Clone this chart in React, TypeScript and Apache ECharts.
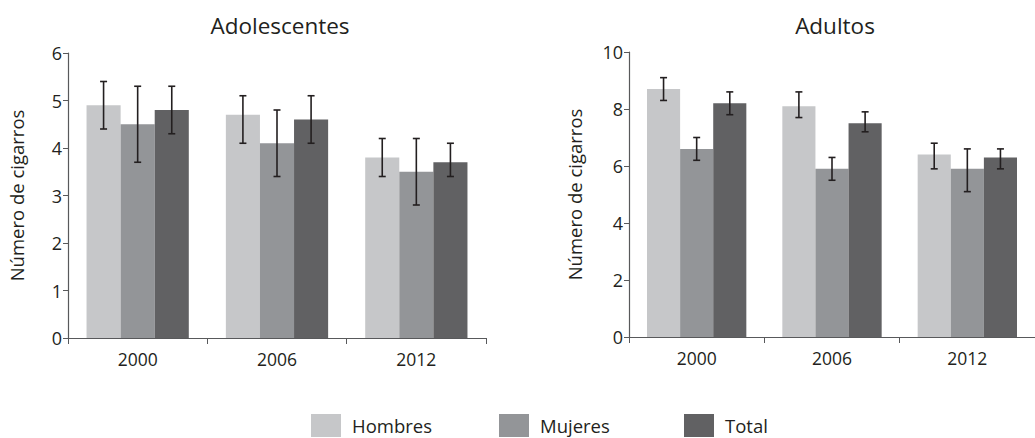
import React, { useEffect, useRef } from "react";
import * as echarts from "echarts";

const categories = ["2000", "2006", "2012"];
const seriesNames = ["Hombres", "Mujeres", "Total"];
const colors = ["#c6c7c9", "#939598", "#616163"];

// Adolescentes
const adoValues = [
  [4.9, 4.7, 3.8],
  [4.5, 4.1, 3.5],
  [4.8, 4.6, 3.7],
];
const adoLow = [
  [4.4, 4.1, 3.4],
  [3.7, 3.4, 2.8],
  [4.3, 4.1, 3.4],
];
const adoHigh = [
  [5.4, 5.1, 4.2],
  [5.3, 4.8, 4.2],
  [5.3, 5.1, 4.1],
];

// Adultos
const aduValues = [
  [8.7, 8.1, 6.4],
  [6.6, 5.9, 5.9],
  [8.2, 7.5, 6.3],
];
const aduLow = [
  [8.3, 7.7, 5.9],
  [6.2, 5.5, 5.1],
  [7.8, 7.2, 5.9],
];
const aduHigh = [
  [9.1, 8.6, 6.8],
  [7.0, 6.3, 6.6],
  [8.6, 7.9, 6.6],
];

const FONT = "'Open Sans', 'DejaVu Sans', sans-serif";
const TEXT = "#231f20";
const CAT_GAP = 0.266;

function errorSeries(gridIdx: number, low: number[][], high: number[][]) {
  const data: number[][] = [];
  low.forEach((arr, s) => arr.forEach((v, c) => data.push([c, v, high[s][c], s])));
  return {
    type: "custom",
    xAxisIndex: gridIdx,
    yAxisIndex: gridIdx,
    silent: true,
    z: 10,
    data,
    renderItem: (params: any, api: any) => {
      const c = api.value(0);
      const lo = api.value(1);
      const hi = api.value(2);
      const s = api.value(3);
      const catW = api.size([1, 0])[0];
      const bw = (catW * (1 - CAT_GAP)) / 3;
      const pLo = api.coord([c, lo]);
      const pHi = api.coord([c, hi]);
      const x = pLo[0] + (s - 1) * bw;
      const cap = 3.5;
      const style = { stroke: TEXT, lineWidth: 1.6 };
      return {
        type: "group",
        children: [
          { type: "line", shape: { x1: x, y1: pLo[1], x2: x, y2: pHi[1] }, style },
          { type: "line", shape: { x1: x - cap, y1: pLo[1], x2: x + cap, y2: pLo[1] }, style },
          { type: "line", shape: { x1: x - cap, y1: pHi[1], x2: x + cap, y2: pHi[1] }, style },
        ],
      };
    },
  };
}

export default function App() {
  const ref = useRef<HTMLDivElement>(null);
  useEffect(() => {
    document.body.style.margin = "0";
    const chart = echarts.init(ref.current!, null, { renderer: "svg" });
    const axisLine = { lineStyle: { color: "#58595b", width: 1.2 } };
    const xAxis = (gi: number) => ({
      type: "category",
      gridIndex: gi,
      data: categories,
      axisLine,
      axisTick: { show: true, length: 6, lineStyle: { color: "#58595b" } },
      axisLabel: { color: TEXT, fontSize: 17.5, fontFamily: FONT, margin: 12 },
    });
    const yAxis = (gi: number, max: number, interval: number, gap: number) => ({
      type: "value",
      gridIndex: gi,
      min: 0,
      max,
      interval,
      name: "Número de cigarros",
      nameLocation: "middle",
      nameGap: gap,
      nameTextStyle: { color: TEXT, fontSize: 18.5, fontFamily: FONT },
      axisLine: { show: true, ...axisLine },
      axisTick: { show: true, length: 5, lineStyle: { color: "#58595b" } },
      axisLabel: { color: TEXT, fontSize: 18, fontFamily: FONT, margin: 6 },
      splitLine: { show: false },
    });
    const bars: any[] = [];
    [adoValues, aduValues].forEach((vals, gi) => {
      vals.forEach((v, s) => {
        bars.push({
          type: "bar",
          name: seriesNames[s],
          xAxisIndex: gi,
          yAxisIndex: gi,
          data: v,
          barGap: "0%",
          barCategoryGap: CAT_GAP * 100 + "%",
          itemStyle: { color: colors[s] },
        });
      });
    });
    const legendLefts = [311, 499, 684];
    chart.setOption({
      animation: false,
      textStyle: { fontFamily: FONT },
      title: [
        {
          text: "Adolescentes",
          left: 275,
          top: 9,
          textAlign: "center",
          textStyle: { color: TEXT, fontSize: 22.5, fontWeight: "normal", fontFamily: FONT },
        },
        {
          text: "Adultos",
          left: 830,
          top: 9,
          textAlign: "center",
          textStyle: { color: TEXT, fontSize: 22.5, fontWeight: "normal", fontFamily: FONT },
        },
      ],
      legend: seriesNames.map((n, i) => ({
        data: [{ name: n, icon: "rect" }],
        left: legendLefts[i],
        top: 414,
        itemWidth: 30,
        itemHeight: 23,
        itemGap: 0,
        selectedMode: false,
        textStyle: { color: TEXT, fontSize: 18.5, fontFamily: FONT, padding: [0, 0, 0, 6] },
        padding: 0,
      })),
      grid: [
        { left: 68, top: 53, width: 418, height: 285 },
        { left: 629, top: 52, width: 417, height: 285 },
      ],
      xAxis: [xAxis(0), xAxis(1)],
      yAxis: [yAxis(0, 6, 1, 42), yAxis(1, 10, 2, 45)],
      series: [...bars, errorSeries(0, adoLow, adoHigh), errorSeries(1, aduLow, aduHigh)],
    });
    return () => chart.dispose();
  }, []);
  return <div ref={ref} style={{ width: 1035, height: 438 }} />;
}
